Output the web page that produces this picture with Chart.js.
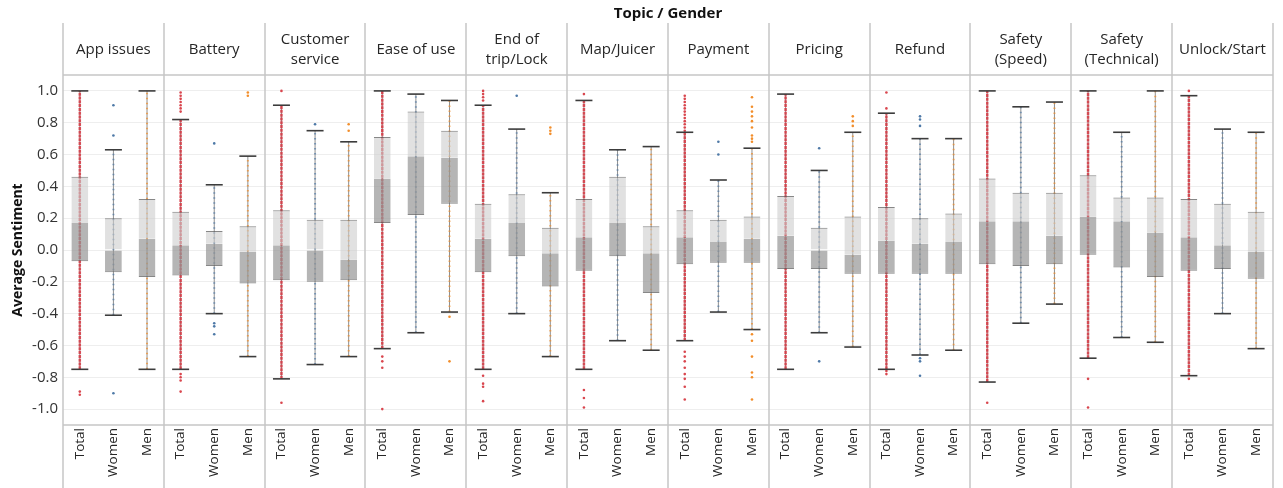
<!DOCTYPE html>
<html>
<head>
<meta charset="utf-8">
<script src="https://cdn.jsdelivr.net/npm/chart.js@4.4.1/dist/chart.umd.min.js"></script>
<style>
  html, body { margin: 0; padding: 0; background: #fff; }
  #wrap { width: 1283px; height: 488px; position: relative; }
</style>
</head>
<body>
<div id="wrap"><canvas id="c"></canvas></div>
<script>
// Topics (panel headers) and the three columns inside each panel
const topics = [
  ['App issues'], ['Battery'], ['Customer', 'service'], ['Ease of use'],
  ['End of', 'trip/Lock'], ['Map/Juicer'], ['Payment'], ['Pricing'],
  ['Refund'], ['Safety', '(Speed)'], ['Safety', '(Technical)'], ['Unlock/Start']
];
const genders = ['Total', 'Women', 'Men'];
const yTicks = [-1.0, -0.8, -0.6, -0.4, -0.2, 0.0, 0.2, 0.4, 0.6, 0.8, 1.0];

// Box-plot statistics, one entry per column (Total, Women, Men for each topic)
const whiskerHigh = [
  1.00, 0.63, 1.00,   0.82, 0.41, 0.59,   0.91, 0.75, 0.68,   1.00, 0.98, 0.94,
  0.91, 0.76, 0.36,   0.94, 0.63, 0.65,   0.74, 0.44, 0.64,   0.98, 0.50, 0.74,
  0.86, 0.70, 0.70,   1.00, 0.90, 0.93,   1.00, 0.74, 1.00,   0.97, 0.76, 0.74
];
const q3 = [
  0.46, 0.20, 0.32,   0.24, 0.12, 0.15,   0.25, 0.19, 0.19,   0.71, 0.87, 0.75,
  0.29, 0.35, 0.14,   0.32, 0.46, 0.15,   0.25, 0.19, 0.21,   0.34, 0.14, 0.21,
  0.27, 0.20, 0.23,   0.45, 0.36, 0.36,   0.47, 0.33, 0.33,   0.32, 0.29, 0.24
];
const median = [
  0.17, 0.00, 0.07,   0.03, 0.04, -0.01,  0.03, 0.00, -0.06,  0.45, 0.59, 0.58,
  0.07, 0.17, -0.02,  0.08, 0.17, -0.02,  0.08, 0.05, 0.07,   0.09, 0.00, -0.03,
  0.06, 0.04, 0.05,   0.18, 0.18, 0.09,   0.21, 0.18, 0.11,   0.08, 0.03, -0.01
];
const q1 = [
  -0.07, -0.14, -0.17,  -0.16, -0.10, -0.21,  -0.19, -0.20, -0.19,  0.17, 0.22, 0.29,
  -0.14, -0.04, -0.23,  -0.13, -0.04, -0.27,  -0.09, -0.08, -0.08,  -0.12, -0.12, -0.15,
  -0.15, -0.15, -0.15,  -0.09, -0.10, -0.09,  -0.03, -0.11, -0.17,  -0.13, -0.12, -0.18
];
const whiskerLow = [
  -0.75, -0.41, -0.75,  -0.75, -0.40, -0.67,  -0.81, -0.72, -0.67,  -0.62, -0.52, -0.39,
  -0.75, -0.40, -0.67,  -0.75, -0.57, -0.63,  -0.57, -0.39, -0.50,  -0.75, -0.52, -0.61,
  -0.75, -0.66, -0.63,  -0.83, -0.46, -0.34,  -0.68, -0.55, -0.58,  -0.79, -0.40, -0.62
];
// Individual responses lying beyond the whiskers
const outliers = [
  [-0.89, -0.91], [0.91, 0.72, -0.90], [],
  [0.99, 0.97, 0.95, 0.93, 0.91, 0.89, 0.87, -0.78, -0.80, -0.82, -0.89], [0.67, -0.46, -0.48, -0.53], [0.99, 0.97],
  [1.00, -0.96], [0.79], [0.79, 0.75],
  [-0.67, -0.70, -0.74, -1.00], [], [-0.42, -0.70],
  [1.00, 0.98, 0.96, 0.94, -0.79, -0.84, -0.86, -0.95], [0.97], [0.77, 0.75, 0.73],
  [0.98, -0.88, -0.93, -0.99], [], [],
  [0.97, 0.95, 0.93, 0.91, 0.89, 0.87, 0.85, 0.83, 0.81, 0.79, 0.77, 0.75, -0.64, -0.67, -0.70, -0.74, -0.78, -0.81, -0.86, -0.94],
  [0.68, 0.60],
  [0.96, 0.90, 0.87, 0.84, 0.81, 0.77, 0.72, 0.70, 0.68, -0.53, -0.57, -0.67, -0.77, -0.80, -0.94],
  [], [0.64, -0.70], [0.84, 0.81, 0.78],
  [0.99, 0.89, -0.76, -0.78], [0.84, 0.82, 0.78, -0.68, -0.70, -0.79], [],
  [-0.96], [], [],
  [-0.81, -0.99], [], [],
  [1.00, -0.81], [], []
];

const genderColors = ['#d9464e', '#4e79a7', '#f28e2b'];
const stripColors = ['rgba(214,58,68,0.88)', 'rgba(78,121,167,0.65)', 'rgba(242,142,43,0.7)'];

// one unique category per topic/gender column
const columnKeys = [];
topics.forEach(t => genders.forEach(g => columnKeys.push(t.join(' ') + ' | ' + g)));
const nCols = columnKeys.length;

// vertical segments (lo..hi) per column, separated by gaps
function segments(filterGender) {
  const pts = [];
  for (let i = 0; i < nCols; i++) {
    if (filterGender !== null && i % 3 !== filterGender) continue;
    const k = columnKeys[i];
    pts.push({x: k, y: whiskerLow[i]}, {x: k, y: whiskerHigh[i]}, {x: k, y: null});
  }
  return pts;
}

const datasets = [];
// whisker stems
datasets.push({
  type: 'line', data: segments(null), borderColor: '#8f8f8f',
  borderWidth: 1, pointRadius: 0, spanGaps: false, order: 8
});
// dotted strips of responses inside the whiskers
genders.forEach((g, gi) => {
  datasets.push({
    type: 'line', data: segments(gi), borderColor: stripColors[gi],
    borderWidth: gi === 0 ? 2.5 : 2, borderDash: gi === 0 ? [3, 0.8] : [1.5, 3.5],
    borderCapStyle: 'butt', pointRadius: 0, spanGaps: false, order: 7
  });
});
// lower box (Q1 to median) and upper box (median to Q3)
datasets.push({
  type: 'bar', data: q1.map((v, i) => [v, median[i]]),
  backgroundColor: 'rgba(150,150,150,0.7)', borderColor: 'rgba(95,95,95,0.75)',
  borderWidth: { top: 0, right: 0, bottom: 1, left: 0 }, borderSkipped: false,
  grouped: false, barPercentage: 0.5, categoryPercentage: 1, order: 4
});
datasets.push({
  type: 'bar', data: q3.map((v, i) => [median[i], v]),
  backgroundColor: 'rgba(205,205,205,0.6)', borderColor: 'rgba(95,95,95,0.75)',
  borderWidth: { top: 1, right: 0, bottom: 0, left: 0 }, borderSkipped: false,
  grouped: false, barPercentage: 0.5, categoryPercentage: 1, order: 4
});
// outliers
genders.forEach((g, gi) => {
  const pts = [];
  for (let i = gi; i < nCols; i += 3) outliers[i].forEach(v => pts.push({x: columnKeys[i], y: v}));
  datasets.push({
    type: 'scatter', data: pts, backgroundColor: genderColors[gi],
    borderWidth: 0, pointRadius: 1.3, order: 2
  });
});
// whisker caps
const caps = [];
for (let i = 0; i < nCols; i++) {
  caps.push({x: columnKeys[i], y: whiskerHigh[i]}, {x: columnKeys[i], y: whiskerLow[i]});
}
datasets.push({
  type: 'scatter', data: caps, pointStyle: 'line', pointRadius: 8.5,
  borderColor: '#3c3c3c', borderWidth: 1.6, order: 1
});

// panel frame, topic headers and overall heading
const panelFrame = {
  id: 'panelFrame',
  afterDraw(chart) {
    const {ctx, chartArea: a} = chart;
    const H = chart.height;
    const headerTop = 23;
    const step = (a.right - a.left) / topics.length;
    ctx.save();
    ctx.strokeStyle = '#c6c6c6';
    ctx.lineWidth = 1.5;
    ctx.beginPath();
    ctx.moveTo(a.left, a.top); ctx.lineTo(a.right, a.top);
    ctx.moveTo(a.left, a.bottom); ctx.lineTo(a.right, a.bottom);
    for (let i = 0; i <= topics.length; i++) {
      const px = Math.round(a.left + i * step);
      ctx.moveTo(px, headerTop); ctx.lineTo(px, H);
    }
    ctx.stroke();

    ctx.fillStyle = '#262626';
    ctx.textAlign = 'center';
    ctx.textBaseline = 'middle';
    ctx.font = '15px "Open Sans", sans-serif';
    const cy = (headerTop + a.top) / 2 + 1;
    topics.forEach((t, i) => {
      const cx = a.left + (i + 0.5) * step;
      t.forEach((s, j) => ctx.fillText(s, cx, cy + (j - (t.length - 1) / 2) * 20));
    });
    ctx.font = 'bold 15px "Open Sans", sans-serif';
    ctx.fillStyle = '#111';
    ctx.fillText('Topic / Gender', (a.left + a.right) / 2, 14);
    ctx.restore();
  }
};

Chart.defaults.font.family = '"Open Sans", sans-serif';
Chart.defaults.color = '#333';

new Chart(document.getElementById('c'), {
  type: 'bar',
  data: { labels: columnKeys, datasets },
  options: {
    responsive: true,
    maintainAspectRatio: false,
    animation: false,
    events: [],
    layout: { padding: { top: 75, right: 2, left: 0, bottom: 0 } },
    plugins: { legend: { display: false }, tooltip: { enabled: false } },
    scales: {
      x: {
        type: 'category', position: 'bottom', offset: true,
        grid: { display: false, drawTicks: false },
        border: { display: false },
        ticks: { minRotation: 90, maxRotation: 90, autoSkip: false, padding: 3,
                 font: { size: 13.5 }, color: '#262626',
                 callback: (v, idx) => genders[idx % 3] },
        afterFit(scale) { scale.height = 63; }
      },
      y: {
        type: 'linear', min: -1.1, max: 1.1,
        grid: { color: '#eeeeee', lineWidth: 1, drawTicks: false },
        border: { display: false },
        afterBuildTicks(scale) { scale.ticks = yTicks.map(v => ({ value: v })); },
        ticks: { padding: 5, font: { size: 15 }, color: '#333',
                 callback: v => Number(v).toFixed(1) },
        title: { display: true, text: 'Average Sentiment', color: '#111',
                 font: { size: 14, weight: 'bold' }, padding: { top: 10, bottom: 0 } },
        afterFit(scale) { scale.width = 63; }
      }
    }
  },
  plugins: [panelFrame]
});
</script>
</body>
</html>
